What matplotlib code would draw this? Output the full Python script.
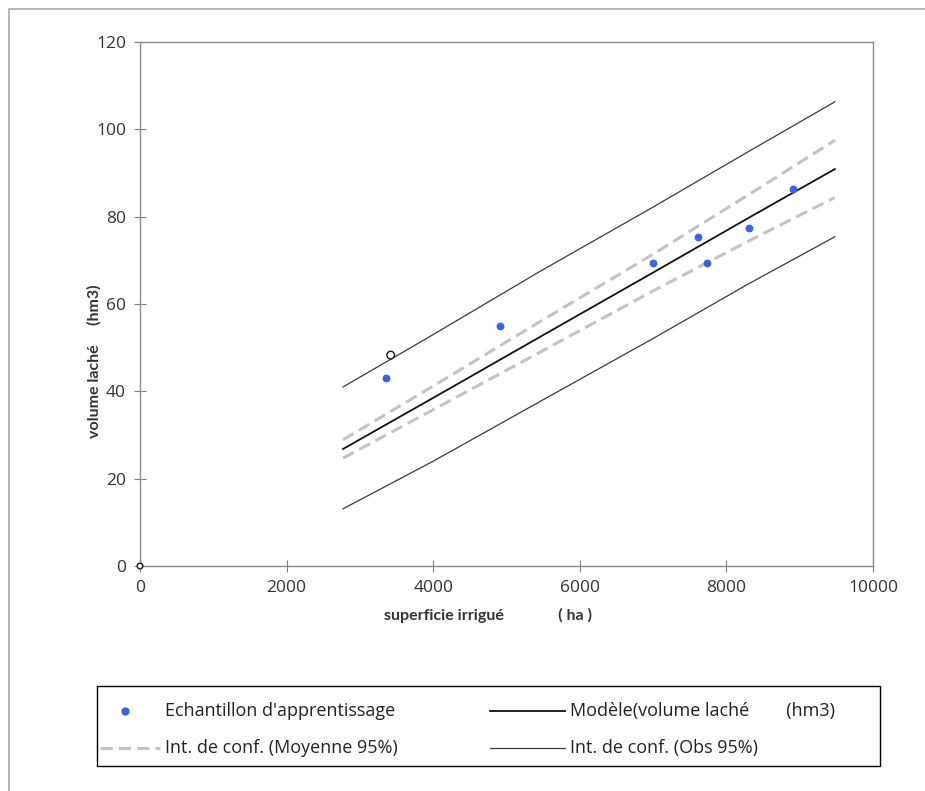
import matplotlib
matplotlib.use("Agg")
import matplotlib.pyplot as plt
from matplotlib.lines import Line2D
from matplotlib.patches import Rectangle

plt.rcParams['font.family'] = ['Open Sans', 'DejaVu Sans']

# training sample (ha, hm3)
sample_x = [3350, 4910, 7000, 7610, 7735, 8310, 8910]
sample_y = [43.0, 55.0, 69.4, 75.3, 69.4, 77.4, 86.3]

# open circles (prediction points)
pred_x = [0, 3420]
pred_y = [0.0, 48.3]

# model and confidence bands
band_x = [2770, 4000, 5450, 7000, 8300, 9480]
model_y = [26.8, 38.5, 52.4, 67.2, 79.7, 90.9]
mean_hi = [28.9, 41.2, 55.9, 71.4, 85.0, 97.5]
mean_lo = [24.7, 35.8, 48.9, 63.0, 74.4, 84.4]
obs_hi = [41.0, 53.0, 67.4, 82.2, 94.9, 106.3]
obs_lo = [13.1, 24.0, 37.6, 52.1, 64.6, 75.4]

x_ticks = [0, 2000, 4000, 6000, 8000, 10000]
y_ticks = [0, 20, 40, 60, 80, 100, 120]

BLUE = '#3e64d8'
DASH = '#c4c4c4'
OBS = '#3a3a3a'

fig = plt.figure(figsize=(9.25, 7.91), dpi=100)
ax = fig.add_axes([140/925, 1 - 566/791, 733/925, 524/791])

ax.plot(band_x, obs_hi, color=OBS, lw=0.9)
ax.plot(band_x, obs_lo, color=OBS, lw=0.9)
ax.plot(band_x, mean_hi, color=DASH, lw=2.2, dashes=(4, 2))
ax.plot(band_x, mean_lo, color=DASH, lw=2.2, dashes=(4, 2))
ax.plot(band_x, model_y, color='#111111', lw=1.3)
ax.scatter(sample_x, sample_y, s=32, color=BLUE, zorder=5, linewidths=0)
ax.scatter(pred_x, pred_y, s=[16, 30], facecolor='white', edgecolor='#222222',
           linewidths=1.1, zorder=6, clip_on=False)

ax.set_xlim(0, 10000)
ax.set_ylim(0, 120)
ax.set_xticks(x_ticks)
ax.set_yticks(y_ticks)
ax.tick_params(direction='inout', length=8, width=0.8, color='#808080',
               labelsize=12.5, labelcolor='#333333', pad=6)
for sp in ax.spines.values():
    sp.set_color('#8a8a8a')
    sp.set_linewidth(1.0)

lab_font = ['Lato', 'DejaVu Sans']
ax.set_xlabel('superficie irrigué              ( ha )', fontsize=11.5,
              fontweight='bold', color='#333333', family=lab_font)
ax.set_ylabel('volume laché     (hm3)', fontsize=11.5, fontweight='bold',
              color='#333333', family=lab_font)
ax.xaxis.set_label_coords(0.475, -0.080)
ax.yaxis.set_label_coords(-0.052, 0.39)

# outer frame of the chart area
fig.patches.append(Rectangle((9/925, -0.1), 1.2, (791 - 9)/791 + 0.1,
                             fill=False, ec='#a8a8a8', lw=1.2,
                             transform=fig.transFigure, clip_on=False))

# legend box drawn by hand
fig.patches.append(Rectangle((97/925, 1 - 766/791), 783/925, 80/791,
                             fill=False, ec='black', lw=1.0,
                             transform=fig.transFigure))
r1 = 1 - 711/791
r2 = 1 - 748/791
fs = 13
tc = '#222222'
fig.add_artist(Line2D([125/925], [r1], marker='o', ms=5, color=BLUE,
                      lw=0, transform=fig.transFigure))
fig.text(165/925, r1, "Echantillon d'apprentissage", fontsize=fs,
         va='center', color=tc)
fig.add_artist(Line2D([490/925, 565/925], [r1, r1], color='#111111',
                      lw=1.3, transform=fig.transFigure))
fig.text(570/925, r1, 'Modèle(volume laché        (hm3)', fontsize=fs,
         va='center', color=tc)
fig.add_artist(Line2D([100/925, 160/925], [r2, r2], color=DASH, lw=2.2,
                      dashes=(4, 2), transform=fig.transFigure))
fig.text(165/925, r2, 'Int. de conf. (Moyenne 95%)', fontsize=fs,
         va='center', color=tc)
fig.add_artist(Line2D([490/925, 565/925], [r2, r2], color=OBS, lw=0.9,
                      transform=fig.transFigure))
fig.text(570/925, r2, 'Int. de conf. (Obs 95%)', fontsize=fs,
         va='center', color=tc)

fig.savefig('out.png', dpi=100)
